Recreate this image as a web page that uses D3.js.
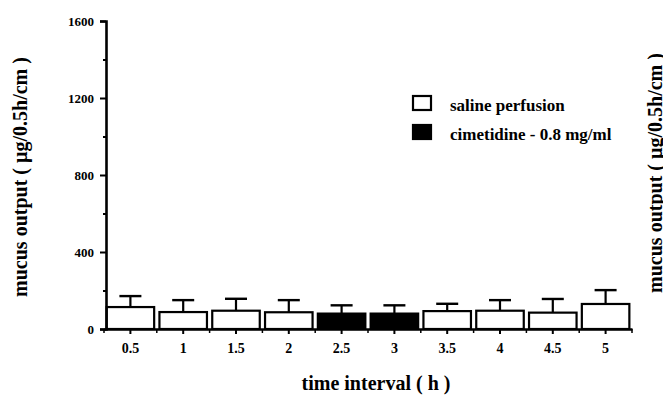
<!DOCTYPE html>
<html><head><meta charset="utf-8">
<script src="https://cdn.jsdelivr.net/npm/d3@7"></script>
<style>body{margin:0;background:#fff}svg{display:block}text{font-family:"Liberation Serif","DejaVu Serif",serif;fill:#000}</style>
</head><body>
<svg id="c" width="663" height="395"></svg>
<script>
const categories = ["0.5","1","1.5","2","2.5","3","3.5","4","4.5","5"];
const means = [114, 88, 95, 87, 80, 80, 93, 95, 85, 130];
const errors = [57, 62, 62, 63, 43, 43, 38, 55, 71, 72];
const groups = ["saline","saline","saline","saline","cimetidine","cimetidine","saline","saline","saline","saline"];
const yTicks = [0, 400, 800, 1200, 1600];
const yMinor = [200, 600, 1000, 1400];
const legendLabels = {saline: "saline perfusion", cimetidine: "cimetidine - 0.8 mg/ml"};
const yTitle = "mucus output ( \u00b5g/0.5h/cm )";
const xTitle = "time interval ( h )";

const svg = d3.select("#c");
const x = d3.scaleBand().domain(categories).range([104, 632]).paddingInner(0.1).paddingOuter(0.05);
const y = d3.scaleLinear().domain([0, 1600]).range([329, 21]);
const fill = d3.scaleOrdinal().domain(["saline","cimetidine"]).range(["#fff","#000"]);

// bars
const data = categories.map((c,i)=>({c, m:means[i], e:errors[i], g:groups[i]}));
const g = svg.append("g");
g.selectAll(".err").data(data).join("line")
  .attr("x1", d=>x(d.c)+x.bandwidth()/2).attr("x2", d=>x(d.c)+x.bandwidth()/2)
  .attr("y1", d=>y(d.m)).attr("y2", d=>y(d.m+d.e)).attr("stroke","#000").attr("stroke-width",2.2);
g.selectAll(".cap").data(data).join("line")
  .attr("x1", d=>x(d.c)+x.bandwidth()/2-11).attr("x2", d=>x(d.c)+x.bandwidth()/2+11)
  .attr("y1", d=>y(d.m+d.e)).attr("y2", d=>y(d.m+d.e)).attr("stroke","#000").attr("stroke-width",2.4);
g.selectAll("rect").data(data).join("rect")
  .attr("x", d=>x(d.c)).attr("width", x.bandwidth())
  .attr("y", d=>y(d.m)).attr("height", d=>y(0)-y(d.m))
  .attr("fill", d=>fill(d.g)).attr("stroke","#000").attr("stroke-width",2.2);

// y axis
const ya = svg.append("g").attr("transform","translate(106,0)")
  .call(d3.axisLeft(y).tickValues(yTicks).tickSize(6).tickPadding(6).tickFormat(d3.format("d")));
ya.select(".domain").attr("stroke-width",2.6);
ya.selectAll(".tick line").attr("stroke-width",2);
ya.selectAll("text").style("font-size","13px").style("font-weight","bold").attr("dy","0.35em");
svg.append("g").attr("transform","translate(106,0)")
  .call(d3.axisLeft(y).tickValues(yMinor).tickSize(3).tickFormat(""))
  .call(s=>s.select(".domain").remove()).selectAll("line").attr("stroke-width",2);

// x axis
const xa = svg.append("g").attr("transform","translate(0,329)")
  .call(d3.axisBottom(x).tickSize(5).tickPadding(9).tickSizeOuter(0));
xa.select(".domain").attr("stroke-width",2.4);
xa.selectAll(".tick line").attr("stroke-width",2);
xa.selectAll("text").style("font-size","14px").style("font-weight","bold");
// boundary ticks
const bounds = categories.map(c=>x(c)-x.step()*x.paddingInner()/2).concat([x(categories[categories.length-1])+x.bandwidth()+x.step()*x.paddingInner()/2]);
svg.append("g").selectAll("line").data(bounds).join("line")
  .attr("x1",d=>d).attr("x2",d=>d).attr("y1",329).attr("y2",333).attr("stroke","#000").attr("stroke-width",1.5);

// titles
svg.append("text").attr("transform","translate(27,177) rotate(-90)").attr("text-anchor","middle")
  .style("font-size","20px").style("font-weight","bold").text(yTitle);
svg.append("text").attr("transform","translate(662,173) rotate(-90)").attr("text-anchor","middle")
  .style("font-size","20px").style("font-weight","bold").text(yTitle);
svg.append("text").attr("x",376).attr("y",390).attr("text-anchor","middle")
  .style("font-size","20px").style("font-weight","bold").text(xTitle);

// legend
const lg = svg.append("g");
["saline","cimetidine"].forEach((k,i)=>{
  lg.append("rect").attr("x",413).attr("y",96+i*29).attr("width",18).attr("height",14)
    .attr("fill",fill(k)).attr("stroke","#000").attr("stroke-width",2.2);
  lg.append("text").attr("x",450).attr("y",111+i*29).style("font-size","17px").style("font-weight","bold").text(legendLabels[k]);
});
</script>
</body></html>
